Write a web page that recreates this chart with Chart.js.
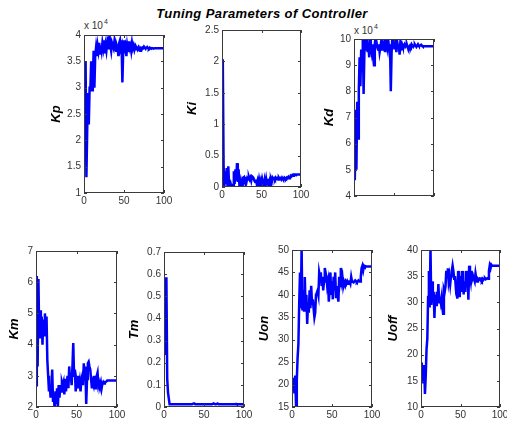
<!DOCTYPE html>
<html>
<head>
<meta charset="utf-8">
<title>Tuning Parameters of Controller</title>
<script src="https://cdn.jsdelivr.net/npm/chart.js@4.4.0/dist/chart.umd.min.js"></script>
<style>
  body { margin: 0; background: #fff; }
  #fig { position: relative; width: 507px; height: 423px; overflow: hidden; font-family: "Liberation Sans", Arial, sans-serif; }
  #fig canvas { position: absolute; }
  .title { position: absolute; left: 0; top: 6px; width: 524px; text-align: center; font: italic bold 13px "Liberation Sans", Arial, sans-serif; letter-spacing: 0.4px; color: #000; line-height: 15px; }
  .expo { position: absolute; font-size: 10px; line-height: 12px; color: #333; white-space: nowrap; }
  .expo span { font-size: 7px; position: relative; top: -5px; margin-left: 1px; }
</style>
</head>
<body>
<div id="fig">
  <div class="title">Tuning Parameters of Controller</div>
  <div class="expo" style="left:84px;top:20px">x 10<span>4</span></div>
  <div class="expo" style="left:354px;top:25px">x 10<span>4</span></div>
</div>
<script>
// iteration index (x axis)
const iterations = [
  0,1,2,3,4,5,6,7,8,9,10,11,12,13,14,15,16,17,18,19,20,21,22,23,24,25,26,27,28,29,
  30,31,32,33,34,35,36,37,38,39,40,41,42,43,44,45,46,47,48,49,50,51,52,53,54,55,56,57,58,59,
  60,61,62,63,64,65,66,67,68,69,70,71,72,73,74,75,76,77,78,79,80,81,82,83,84,85,86,87,88,89,
  90,91,92,93,94,95,96,97,98,99,100
];

// Kp (x 10^4)
const kpValues = [
  3.2,2.1,3.5,1.3,2.2,2.9,2.3,3.0,3.0,3.5, 2.95,3.0,3.7,3.0,3.6,3.75,3.6,3.8,3.7,3.85,
  3.65,3.8,3.7,3.85,3.75,3.9,3.65,3.8,3.7,3.85, 3.75,3.95,3.97,3.8,3.7,3.85,3.8,3.75,3.88,3.75,
  3.7,3.8,3.75,3.6,3.85,3.9,3.75,3.8,3.1,3.7, 3.9,3.65,3.75,3.6,3.8,3.7,3.88,3.75,3.8,3.7,
  3.85,3.75,3.8,3.72,3.78,3.73,3.75,3.72,3.76,3.72, 3.7,3.74,3.72,3.76,3.75,3.78,3.76,3.74,3.75,3.77,
  3.75,3.74,3.76,3.75,3.74,3.75,3.75,3.74,3.75,3.75, 3.75,3.75,3.75,3.75,3.75,3.75,3.75,3.75,3.75,3.75,3.75
];
const kiValues = [
  2.03,2.02,0.35,0.0,0.25,0.05,0.3,0.0,0.33,0.02, 0.0,0.05,0.0,0.02,0.0,0.25,0.05,0.28,0.1,0.38,
  0.08,0.28,0.04,0.1,0.02,0.08,0.0,0.15,0.16,0.1, 0.12,0.08,0.14,0.12,0.16,0.12,0.15,0.1,0.17,0.16,
  0.14,0.1,0.08,0.12,0.05,0.1,0.03,0.12,0.05,0.1, 0.02,0.12,0.06,0.0,0.1,0.02,0.12,0.04,0.13,0.06,
  0.1,0.02,0.12,0.08,0.15,0.13,0.14,0.12,0.15,0.13, 0.14,0.12,0.15,0.13,0.14,0.12,0.15,0.13,0.12,0.15,
  0.14,0.13,0.15,0.14,0.16,0.14,0.15,0.18,0.17,0.19, 0.18,0.2,0.2,0.2,0.19,0.2,0.2,0.2,0.2,0.2,0.2
];
// Kd (x 10^4)
const kdValues = [
  7.3,4.6,6.9,5.0,7.6,6.2,8.0,9.3,8.2,9.6, 8.8,10.2,7.9,9.5,10.2,9.6,10.2,9.5,9.8,9.3,
  10.1,9.7,9.5,9.8,9.3,9.0,9.8,10.1,9.9,9.7, 9.6,9.8,9.5,9.7,9.9,9.6,9.8,9.7,9.9,9.5,
  9.8,10.1,9.7,9.9,9.6,9.8,8.0,9.5,10.1,9.9, 10.1,9.6,9.8,9.5,9.9,9.7,9.8,9.4,9.9,9.7,
  9.8,9.7,9.75,9.8,9.7,9.75,9.8,9.7,9.6,9.7, 9.75,9.7,9.8,9.75,9.7,9.75,9.8,9.75,9.7,9.75,
  9.8,9.75,9.73,9.75,9.78,9.75,9.72,9.72,9.72,9.72, 9.72,9.72,9.72,9.72,9.72,9.72,9.72,9.72,9.72,9.72,9.72
];
const kmValues = [
  2.7,6.2,3.3,6.1,4.2,5.1,4.2,4.9,4.0,4.8, 4.3,5.0,4.4,4.9,3.5,3.0,2.5,2.7,2.3,2.6,
  3.2,2.2,2.4,1.9,2.5,2.1,2.6,2.0,2.7,2.3, 2.7,2.5,2.8,2.7,2.8,2.4,2.9,2.5,2.8,3.0,
  2.6,3.3,2.9,3.0,2.7,3.3,4.05,3.0,3.2,2.5, 2.8,2.6,3.0,2.6,2.8,2.5,2.9,3.0,2.7,3.4,
  2.9,3.3,2.1,2.9,3.4,3.45,3.3,3.2,2.9,2.6, 2.8,2.7,3.0,2.6,2.8,3.0,3.1,2.7,2.8,2.7,
  2.8,2.6,2.75,2.8,2.75,2.8,2.8,2.82,2.85,2.85, 2.85,2.85,2.85,2.85,2.85,2.85,2.85,2.85,2.85,2.85,2.85
];
const tmValues = [
  0.24,0.58,0.58,0.58,0.13,0.065,0.065,0.012,0.012,0.012, 0.012,0.012,0.012,0.012,0.012,0.012,0.012,0.012,0.012,0.012,
  0.012,0.012,0.012,0.012,0.012,0.012,0.012,0.012,0.012,0.012, 0.012,0.012,0.012,0.012,0.012,0.012,0.012,0.016,0.016,0.012,
  0.012,0.012,0.012,0.012,0.012,0.012,0.012,0.012,0.012,0.012, 0.012,0.012,0.012,0.012,0.012,0.012,0.012,0.012,0.012,0.012,
  0.012,0.012,0.016,0.014,0.012,0.012,0.012,0.016,0.012,0.012, 0.012,0.012,0.012,0.012,0.012,0.012,0.012,0.012,0.012,0.012,
  0.012,0.012,0.012,0.012,0.012,0.012,0.012,0.012,0.012,0.012, 0.014,0.012,0.012,0.012,0.012,0.012,0.012,0.012,0.012,0.012,0.012
];
const uonValues = [
  21,18.5,21.5,18,22,15.5,21,26,29,38, 45,37,50.5,36.5,41,36.5,44,37,40,33.5,
  38,36,41,37,42,38,39,37,35,36, 40,40.5,41,40,45,44,45,42,44,41,
  43,46,45,44,42,43,38.5,41,45,40, 43,39,44,41,45,39.5,42,40,38.5,44,
  42,46,43,44,42,43,42.5,43,42.5,43, 42.5,43,43,42.5,44,43,43,42.8,43,43.2,
  43,42.8,43,43.2,43,43,44,46,46.5,45.5, 46.5,46.3,46.4,46.3,46.3,46.3,46.3,46.3,46.3,46.3,46.3
];
const uoffValues = [
  18.5,15,17.5,14.5,18,12.5,16,21,23,31, 36,29,40.5,29.5,34,30,32,27,31.5,29.5,
  32,30,33.5,30,31,30,31,29,27.8,32.5, 32,33,36,35,36.5,34,35,33.5,35,36,
  37,36,34.5,35,33,34,30.7,36,33,31, 35,32,36,34,31.5,34,32,36,34,35,
  30.5,37,35,34,36,34.5,35,34.5,34,35.5, 34.5,34,34.5,34.3,34.5,34.3,34.5,34.2,34.5,34.3,
  34.5,34.6,34.4,34.5,34.6,34.5,36,37,36.5,37.2, 37,37,37,37,37,37,37,37,37,37,37
];

// tick labels
const xTicks = [0, 50, 100];
const kpTicks = [1, 1.5, 2, 2.5, 3, 3.5, 4];
const kiTicks = [0, 0.5, 1, 1.5, 2, 2.5];
const kdTicks = [4, 5, 6, 7, 8, 9, 10];
const kmTicks = [2, 3, 4, 5, 6, 7];
const tmTicks = [0, 0.1, 0.2, 0.3, 0.4, 0.5, 0.6, 0.7];
const uonTicks = [15, 20, 25, 30, 35, 40, 45, 50];
const uoffTicks = [10, 15, 20, 25, 30, 35, 40];

const fig = document.getElementById("fig");
const FONT = "'Liberation Sans', Arial, sans-serif";
const TEXT = "#333";

// MATLAB style box with inward ticks on all four sides
const boxPlugin = {
  id: "matlabBox",
  afterDatasetsDraw(chart) {
    const { ctx, chartArea: a, scales } = chart;
    const len = 3;
    ctx.save();
    ctx.strokeStyle = "#3a3a3a";
    ctx.lineWidth = 1;
    ctx.strokeRect(a.left + 0.5, a.top + 0.5, a.right - a.left - 1, a.bottom - a.top - 1);
    ctx.beginPath();
    scales.x.ticks.forEach(t => {
      const x = Math.round(scales.x.getPixelForValue(t.value)) + 0.5;
      ctx.moveTo(x, a.bottom); ctx.lineTo(x, a.bottom - len);
      ctx.moveTo(x, a.top); ctx.lineTo(x, a.top + len);
    });
    scales.y.ticks.forEach(t => {
      const y = Math.round(scales.y.getPixelForValue(t.value)) + 0.5;
      ctx.moveTo(a.left, y); ctx.lineTo(a.left + len, y);
      ctx.moveTo(a.right, y); ctx.lineTo(a.right - len, y);
    });
    ctx.stroke();
    ctx.restore();
  }
};

function drawPanel(p) {
  const padTop = 8, padRight = 12, xH = 18;
  const yW = p.axisW;
  const canvas = document.createElement("canvas");
  canvas.width = yW + p.w + padRight;
  canvas.height = padTop + p.h + xH;
  canvas.style.left = (p.left - yW) + "px";
  canvas.style.top = (p.top - padTop) + "px";
  fig.appendChild(canvas);

  new Chart(canvas, {
    type: "line",
    data: {
      datasets: [{
        data: iterations.map((x, i) => ({ x: x, y: p.values[i] })),
        borderColor: "#0000ff",
        borderWidth: 2.5,
        pointRadius: 0,
        tension: 0,
        clip: 0
      }]
    },
    options: {
      responsive: false,
      animation: false,
      devicePixelRatio: 1,
      layout: { padding: { top: padTop, right: padRight, left: 0, bottom: 0 } },
      plugins: { legend: { display: false }, tooltip: { enabled: false } },
      scales: {
        x: {
          type: "linear", min: 0, max: 100,
          grid: { display: false, drawTicks: false },
          border: { display: false },
          afterBuildTicks: s => { s.ticks = xTicks.map(v => ({ value: v })); },
          afterFit: s => { s.height = xH; },
          ticks: {
            display: p.xLabels, padding: 2, autoSkip: false, maxRotation: 0,
            color: TEXT, font: { family: FONT, size: 10 },
            callback: v => String(v)
          }
        },
        y: {
          type: "linear", min: p.ticks[0], max: p.ticks[p.ticks.length - 1],
          grid: { display: false, drawTicks: false },
          border: { display: false },
          afterBuildTicks: s => { s.ticks = p.ticks.map(v => ({ value: v })); },
          afterFit: s => { s.width = yW; },
          ticks: {
            padding: 3, autoSkip: false,
            color: TEXT, font: { family: FONT, size: 10 },
            callback: v => String(v)
          },
          title: {
            display: true, text: p.label, color: "#000",
            font: { family: FONT, size: 13, weight: "bold", style: "italic" },
            padding: { top: p.titlePad, bottom: 0 }
          }
        }
      }
    },
    plugins: [boxPlugin]
  });
}

const panels = [
  { label: "Kp",   values: kpValues,   ticks: kpTicks,   left: 84,  top: 34,  w: 80, h: 159, axisW: 38, titlePad: 3,  xLabels: true },
  { label: "Ki",   values: kiValues,   ticks: kiTicks,   left: 222, top: 29,  w: 79, h: 158, axisW: 38, titlePad: 1,  xLabels: true },
  { label: "Kd",   values: kdValues,   ticks: kdTicks,   left: 354, top: 38,  w: 80, h: 158, axisW: 38, titlePad: 6,  xLabels: false },
  { label: "Km",   values: kmValues,   ticks: kmTicks,   left: 36,  top: 250, w: 81, h: 157, axisW: 38, titlePad: 9,  xLabels: true },
  { label: "Tm",   values: tmValues,   ticks: tmTicks,   left: 164, top: 251, w: 80, h: 156, axisW: 38, titlePad: 1,  xLabels: true },
  { label: "Uon",  values: uonValues,  ticks: uonTicks,  left: 292, top: 249, w: 80, h: 158, axisW: 38, titlePad: 3,  xLabels: true },
  { label: "Uoff", values: uoffValues, ticks: uoffTicks, left: 421, top: 249, w: 79, h: 158, axisW: 38, titlePad: 3,  xLabels: true }
];

panels.forEach(drawPanel);
</script>
</body>
</html>
